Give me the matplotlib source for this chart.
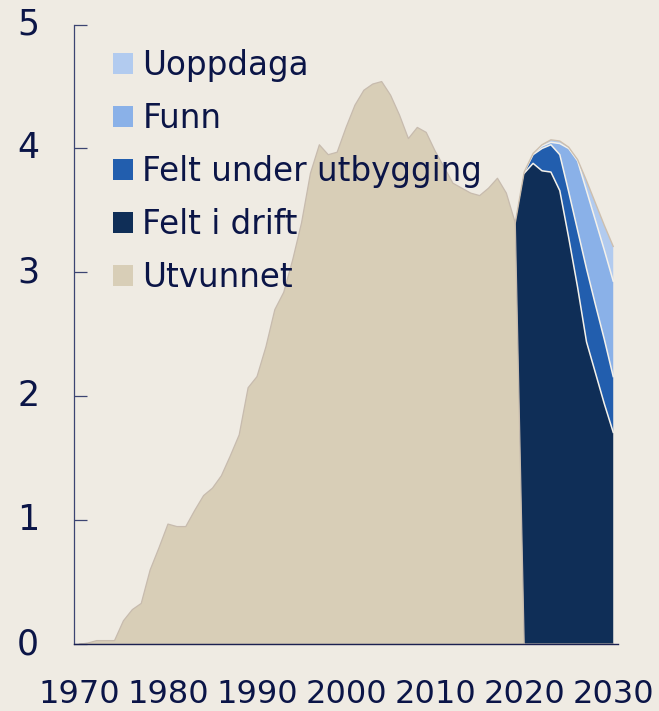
import numpy as np
import matplotlib.pyplot as plt
from matplotlib.patches import Patch

# ==========================================
# Petroleumsproduksjon: historisk og prognose
# ==========================================

years = np.arange(1970, 2031)

# historisk produksjon 1970-2019
utvunnet_hist = [0.00, 0.01, 0.03, 0.03, 0.03, 0.19, 0.28, 0.33, 0.60, 0.78,
                 0.97, 0.95, 0.95, 1.08, 1.20, 1.26, 1.36, 1.52, 1.69, 2.07,
                 2.16, 2.40, 2.70, 2.84, 3.10, 3.40, 3.80, 4.03, 3.95, 3.97,
                 4.17, 4.35, 4.47, 4.52, 4.54, 4.43, 4.27, 4.08, 4.17, 4.13,
                 3.98, 3.85, 3.72, 3.68, 3.64, 3.62, 3.68, 3.76, 3.64, 3.40]

# prognose 2020-2030
felt_i_drift = [3.80, 3.88, 3.82, 3.81, 3.66, 3.28, 2.88, 2.44, 2.19, 1.94, 1.71]
felt_under_utbygging = [0.01, 0.07, 0.18, 0.22, 0.29, 0.37, 0.46, 0.59, 0.55, 0.52, 0.45]
funn = [0.00, 0.01, 0.02, 0.02, 0.09, 0.35, 0.56, 0.63, 0.68, 0.72, 0.77]
uoppdaga = [0.00, 0.00, 0.01, 0.02, 0.02, 0.01, 0.01, 0.08, 0.14, 0.20, 0.28]

labels = ['Utvunnet', 'Felt i drift', 'Felt under utbygging', 'Funn', 'Uoppdaga']
colors = ['#D8CEB7', '#0F2E57', '#225EAE', '#8AB1E8', '#B2CBEF']

bg = '#EFEBE3'
txt = '#0B1547'

# fyll ut seriene til hele tidsaksen
n_hist = len(utvunnet_hist)
n_prog = len(felt_i_drift)
pad_prog = [0.0] * n_hist
utv = np.array(utvunnet_hist + [0.0] * n_prog)
drift = np.array(pad_prog + felt_i_drift)
utb = np.array(pad_prog + felt_under_utbygging)
fun = np.array(pad_prog + funn)
uop = np.array(pad_prog + uoppdaga)

plt.rcParams['font.family'] = 'DejaVu Sans'

fig = plt.figure(figsize=(6.59, 7.11), dpi=100, facecolor=bg)
ax = fig.add_axes([0.1123, 0.0938, 0.8250, 0.8717])
ax.set_facecolor(bg)

ax.stackplot(years, utv, drift, utb, fun, uop, colors=colors,
             edgecolor='none', linewidth=0)

# kantlinjer
cum = np.cumsum(np.vstack([utv, drift, utb, fun, uop]), axis=0)
ax.fill_between(years, 0, utv, facecolor='none', edgecolor='#C7BBAE', linewidth=0.9)
p = years >= 2020
for k in range(1, 4):
    ax.plot(years[p], cum[k][p], color='#F4F1EA', linewidth=1.1)
q = years >= 2019
ax.plot(years[q], cum[4][q], color='#CDBFAE', linewidth=1.0)

ax.set_xlim(1969.45, 2030.5)
ax.set_ylim(0, 5)
ax.set_xticks(np.arange(1970, 2031, 10))
ax.set_yticks(range(0, 6))

for s in ['top', 'right']:
    ax.spines[s].set_visible(False)
ax.spines['left'].set_color('#3C4472')
ax.spines['left'].set_linewidth(0.9)
ax.spines['bottom'].set_color('#1A2050')
ax.spines['bottom'].set_linewidth(1.0)

ax.tick_params(axis='y', direction='in', length=9, width=0.9, color='#3C4472',
               labelsize=25, labelcolor=txt, pad=33)
ax.tick_params(axis='x', length=0, labelsize=23, labelcolor=txt, pad=25)
for lab in ax.get_yticklabels():
    lab.set_horizontalalignment('center')
    lab.set_verticalalignment('center')

handles = [Patch(facecolor=c, edgecolor='none') for c in colors]
leg = ax.legend(handles[::-1], labels[::-1], loc='upper left',
                bbox_to_anchor=(0.1715, 0.931), bbox_transform=fig.transFigure,
                frameon=False, fontsize=23.5, handlelength=0.6, handleheight=0.6,
                handletextpad=0.3, labelspacing=0.61, borderpad=0, borderaxespad=0)
for t in leg.get_texts():
    t.set_color(txt)

fig.savefig('out.png', dpi=100, facecolor=bg)
